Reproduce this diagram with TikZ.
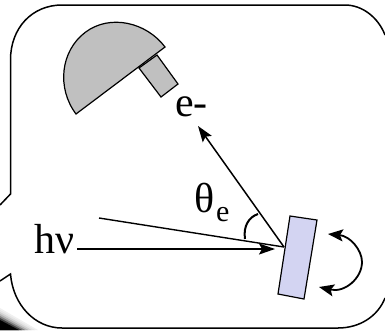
\documentclass[tikz,border=0pt]{standalone}
\usepackage{fontspec}
\setmainfont{Liberation Serif}
\usepackage{xcolor}
\usetikzlibrary{arrows.meta,positioning,calc}
\definecolor{domegray}{HTML}{C0C0C0}
\definecolor{samplefill}{HTML}{D3D4F2}

\begin{document}
\begin{tikzpicture}[x=1pt,y=-1pt,
    part/.style={draw=black,line width=1.2pt,line join=miter},
    beam/.style={draw=black,line width=1.7pt},
    tip/.style={{Stealth[length=15pt,width=12pt,inset=3pt]}-{Stealth[length=15pt,width=12pt,inset=3pt]}},
    head/.style={-{Stealth[length=16pt,width=11pt,inset=3pt]}},
    lbl/.style={font=\fontsize{42}{42}\selectfont,inner sep=0pt}]
  \useasboundingbox (0,0) rectangle (385,330);
  % smudge in the corner
  \foreach \d/\k in {0/6,2/10,4/18,6/30,8/50,10/75,12/100} {
    \fill[black!\k] (0,308+\d) -- (38-1.6*\d,330) -- (0,330) -- cycle;
  }
  % balloon outline
  \draw[line width=1.5pt] (0,205) -- (10.5,194) -- (10.5,60) .. controls (10.5,28) and (32,5) .. (62,5)
     -- (345,5) .. controls (362,5) and (378,17) .. (385,35);
  \draw[line width=1.5pt] (385,298) .. controls (378,316) and (360,328) .. (338,328)
     -- (62,328) .. controls (35,328) and (13,305) .. (10.5,274) -- (0,281);
  % analyser
  \draw[part,fill=domegray] (139,68) -- (161,97) -- (178,84) -- (157,55) -- cycle;
  \draw[part,fill=domegray] (76,114) .. controls (56.5,88) and (60.5,51) .. (85.3,32.3)
     .. controls (110,13.7) and (146.4,22.2) .. (165,47) -- cycle;
  % sample
  \draw[part,fill=samplefill] (290,216) -- (317,220) -- (304,299) -- (278,294) -- cycle;
  \coordinate (hit) at (284,247);
  \coordinate (src) at (99,218);
  \coordinate (det) at (198,126);
  \coordinate (beamstart) at (77,249);
  \coordinate (beamend) at (275,249);
  \node[lbl,anchor=base west] (hv) at (34,253) {hν};
  \node[lbl,anchor=base west] (elec) at (175,116) {e-};
  \node[lbl,anchor=base west] (theta) at (194,212) {θ};
  \node[font=\fontsize{30}{30}\selectfont,inner sep=0pt,anchor=base west] (esub) at (216,221) {e};
  \draw[line width=1.4pt] (src) -- (hit);
  \draw[head,line width=1.5pt] (hit) -- (det);
  \draw[head,beam] (beamstart) -- (beamend);
  % angle arc
  \draw[line width=2pt] (245,239) .. controls (243,226) and (249,217) .. (258,214);
  % rocking
  \draw[tip,line width=1.8pt] (328,234) .. controls (350,236) and (362,250) .. (362,262)
     .. controls (362,278) and (345,293) .. (319,287);
\end{tikzpicture}
\end{document}
